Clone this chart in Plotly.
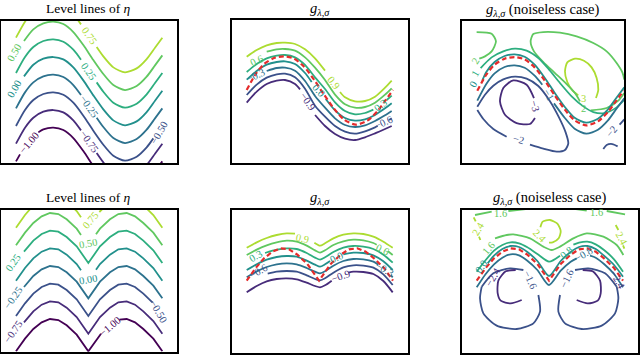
import plotly.graph_objects as go
from plotly.colors import sample_colorscale

# All curves are in panel-local units (1/3 px), origin at the frame's top-left corner.

# ---------- panel 1 : level lines of eta (sine boundary) ----------
P1_X_GAP = [45, 72, 97, 127, 157, 187, 217, 240, None, 287, 307, 337, 372, 407, 437, 462, 484]
P1_X_LEFT = [69, 97, 127, 157, 187, 217, 247, 277, 307, 337, 372, 407, 437, 462, 484]
P1_X_M050 = [45, 72, 97, 127, 157, 187, 217, 247, 277, 307, 337, 372, 407, 437, 457]
P1_X_M100 = [45, 57, None, 112, 127, 157, 187, 217, 247, 277, 307, 337, 372, 407, 437, 462, 484]
P1_Y_075 = [51, 3, -27, -45, -50, -43, -19, 11, None, 79, 107, 140, 155, 143, 115, 81, 51]
P1_Y_050 = [61, 26, 8, 3, 10, 34, 73, 118, 160, 193, 208, 196, 168, 134, 104]
P1_Y_025 = [157, 109, 79, 61, 56, 63, 87, 117, None, 185, 213, 246, 261, 249, 221, 187, 157]
P1_Y_000 = [167, 132, 114, 109, 116, 140, 179, 224, 266, 299, 314, 302, 274, 240, 210]
P1_Y_M025 = [263, 215, 185, 167, 162, 169, 193, 223, None, 291, 319, 352, 367, 355, 327, 293, 263]
P1_Y_M050 = [316, 268, 238, 220, 215, 222, 246, 285, 330, 372, 405, 420, 408, 380, 353]
P1_Y_M075 = [369, 321, 291, 273, 268, 275, 299, 329, None, 397, 425, 458, 473, 461, 433, 399, 369]
P1_Y_M100 = [422, 401, None, 335, 326, 321, 328, 352, 391, 436, 478, 511, 526, 514, 486, 452, 422]

# eta = 0 boundary, sine case (red dashed in the top row)
ETA_SINE_X = [45, 72, 97, 127, 157, 187, 217, 247, 277, 307, 337, 372, 407, 437, 462, 484]
ETA_SINE_Y = [210, 162, 132, 114, 109, 116, 140, 179, 224, 266, 299, 314, 302, 274, 240, 210]

# ---------- panel 2 : g (sine) ----------
P2_X_09 = [45, 75, 105, 135, 160, 190, 220, 250, 280, None, 325, 340, 370, 400, 430, 460, 480]
P2_Y_09 = [110, 90, 76, 69, 68, 72, 88, 115, 152, None, 216, 232, 244, 243, 230, 203, 182]
P2_X_06 = [105, 135, 160, 190, 220, 250, 280, 310, 340, 370, 400, 430, 460, 480]
P2_Y_06 = [95, 88, 87, 92, 112, 143, 180, 224, 253, 263, 261, 248, 224, 205]
P2_X_03 = [45, 75, 105, 135, 160, 190, 220, 250, 280, 310, 340, 370, 400, 425, None, 465, 480]
P2_Y_03 = [156, 132, 115, 107, 105, 112, 135, 172, 207, 247, 273, 283, 279, 269, None, 240, 227]
P2_X_00 = [45, 75, 105, 135, 160, 190, 220, 240, None, 282, 310, 340, 370, 400, 430, 460, 480]
P2_Y_00 = [179, 153, 134, 126, 124, 132, 159, 186, None, 237, 271, 294, 302, 298, 285, 265, 250]
P2_X_M03 = [105, 135, 160, 190, 220, 250, 280, 310, 340, 370, 400, 430, 460, 480]
P2_Y_M03 = [153, 144, 143, 152, 183, 228, 263, 295, 315, 321, 316, 303, 286, 273]
P2_X_M06 = [45, 75, 105, 135, 160, 190, 220, 250, 280, 310, 340, 370, 400, 430, 438, None, 472, 480]
P2_Y_M06 = [225, 194, 173, 163, 161, 172, 206, 257, 290, 318, 335, 341, 334, 322, 318, None, 300, 295]
P2_X_M09 = [45, 75, 105, 135, 160, 190, 205, None, 250, 280, 310, 340, 370, 400, 430, 460, 480]
P2_Y_M09 = [248, 215, 192, 182, 180, 192, 208, None, 285, 318, 342, 356, 360, 352, 340, 327, 318]

# ---------- panel 3 : g noiseless (sine) ----------
P3_X_3 = [348, 331, 315, 308, 315, 338, 365, 388, 403, 408, 401]
P3_Y_3 = [224, 210, 184, 152, 125, 114, 120, 140, 172, 207, 232]
P3_X_2 = [486, 481, 463, 433, 393, 343, 293, 243, 213, 205, 215, 243, 278, 313, 338, 353, None, 385, 433, 468, 486]
P3_Y_2 = [177, 157, 127, 92, 67, 47, 36, 34, 40, 62, 92, 124, 157, 190, 217, 242, None, 269, 262, 240, 217]
P3_X_2B = [43, 88, 101, 88, 68, 51]
P3_Y_2B = [34, 39, 62, 92, 107, 114]
P3_X_1 = [55, 88, 123, 158, 193, 228, 258, 293, 328, 363, 393, 428, 463, 486]
P3_Y_1 = [142, 110, 92, 84, 90, 112, 144, 187, 227, 257, 274, 277, 260, 237]
P3_X_0 = [60, 72, 97, 127, 157, 187, 217, 247, 277, 307, 337, 372, 407, 437, 462, 486]
P3_Y_0 = [180, 154, 124, 106, 101, 108, 132, 171, 216, 258, 291, 306, 294, 266, 232, 200]
P3_X_M1 = [45, 72, 97, 127, 157, 187, 217, 240, None, 275, 307, 337, 372, 407, 437, 462, 486]
P3_Y_M1 = [240, 190, 158, 139, 134, 141, 165, 192, None, 248, 291, 324, 339, 327, 299, 265, 233]
P3_X_M2 = [45, 68, 93, 123, 158, 193, 228, 262, 290, 310, 318, 308, 283, 243, 203, None, 133, 93, 63, 45]
P3_Y_M2 = [258, 222, 195, 176, 168, 174, 196, 240, 290, 335, 368, 388, 393, 384, 372, None, 348, 325, 295, 268]
P3_X_M2B = [423, 433, 450, 466, None, 472, 486]
P3_Y_M2B = [385, 373, 370, 377, None, 312, 296]
P3_X_M3 = [215, 193, 153, 123, 113, 128, 163, 203, 218]
P3_Y_M3 = [232, 192, 179, 202, 242, 282, 307, 310, 292]

# ---------- panel 4 : level lines of eta (|sin| boundary) ----------
P4_X = [45, 72, 97, 122, 147, 172, 197, 227, 262, 297, 327, 352, 377, 402, 427, 457, 484]
P4_X_075 = [45, 72, 97, 122, 147, 172, 197, 227, 240, None, 295, 327, 352, 377, 402, 427, 457, 484]
P4_X_V = [45, 72, 97, 122, 147, 172, 197, 227, 240, None, 285, 297, 327, 352, 377, 402, 427, 457, 484]
P4_X_LEFT = [69, 97, 122, 147, 172, 197, 227, 262, 297, 327, 352, 377, 402, 427, 457, 484]
P4_X_M050 = [45, 72, 97, 122, 147, 172, 197, 227, 262, 297, 327, 352, 377, 402, 427, 455]
P4_X_M100 = [45, 72, 97, 122, 147, 172, 197, 227, 262, 297, 300, None, 355, 377, 402, 427, 457, 484]
P4_Y_075 = [53, 15, -14, -34, -44, -41, -25, 3, 22, None, 6, -25, -41, -44, -34, -14, 15, 53]
P4_Y_050 = [106, 68, 39, 19, 9, 12, 28, 56, 75, None, 73, 56, 28, 12, 9, 19, 39, 68, 106]
P4_Y_025 = [125, 92, 72, 62, 65, 81, 109, 159, 109, 81, 65, 62, 72, 92, 121, 159]
P4_Y_000 = [212, 174, 145, 125, 115, 118, 134, 162, 181, None, 179, 162, 134, 118, 115, 125, 145, 174, 212]
P4_Y_M025 = [231, 198, 178, 168, 171, 187, 215, 265, 215, 187, 171, 168, 178, 198, 227, 265]
P4_Y_M050 = [318, 280, 251, 231, 221, 224, 240, 268, 318, 268, 240, 224, 221, 231, 251, 278]
P4_Y_M075 = [337, 304, 284, 274, 277, 293, 321, 371, 321, 293, 277, 274, 284, 304, 333, 371]
P4_Y_M100 = [424, 386, 357, 337, 327, 330, 346, 374, 424, 374, 371, None, 329, 327, 337, 357, 386, 424]

# eta = 0 boundary, |sin| case (red dashed in the bottom row)
ETA_ABS_Y = [212, 174, 145, 125, 115, 118, 134, 162, 212, 162, 134, 118, 115, 125, 145, 174, 212]

# ---------- panel 5 : g (|sin|) ----------
P5_X_09 = [45, 75, 105, 135, 165, 190, None, 248, 265, 280, 305, 335, 365, 395, 425, 455, 483]
P5_Y_09 = [113, 97, 84, 75, 70, 71, None, 98, 107, 100, 85, 74, 70, 72, 80, 95, 113]
P5_X_06 = [45, 75, 105, 135, 165, 195, 225, 250, 265, 280, 305, 335, 365, 395, 425, 435, None, 468, 483]
P5_Y_06 = [135, 119, 106, 97, 92, 95, 107, 121, 128, 121, 105, 94, 89, 91, 99, 104, None, 123, 135]
P5_X_03 = [100, 135, 165, 195, 225, 250, 265, 280, 305, 335, 365, 395, 425, 455, 483]
P5_Y_03 = [129, 119, 115, 117, 129, 143, 149, 142, 126, 113, 108, 110, 117, 134, 158]
P5_X_00 = [45, 75, 105, 135, 165, 195, 225, 250, 265, 280, 295, None, 335, 365, 395, 425, 455, 483]
P5_Y_00 = [180, 163, 149, 141, 138, 140, 152, 164, 170, 163, 153, None, 133, 128, 129, 136, 154, 180]
P5_X_M03 = [45, 75, 105, 135, 165, 195, 225, 250, 265, 280, 305, 335, 365, 395, 425, 440, None, 478, 483]
P5_Y_M03 = [202, 184, 171, 163, 160, 163, 174, 185, 190, 184, 167, 153, 147, 148, 155, 164, None, 196, 202]
P5_X_M06 = [108, 135, 165, 195, 225, 250, 265, 280, 305, 335, 365, 395, 425, 455, 483]
P5_Y_M06 = [191, 185, 183, 185, 196, 207, 211, 205, 188, 172, 166, 167, 173, 193, 225]
P5_X_M09 = [45, 75, 105, 135, 165, 195, 225, 250, 265, 280, 300, None, 350, 365, 395, 425, 455, 483]
P5_Y_M09 = [247, 228, 214, 207, 205, 208, 218, 228, 232, 226, 212, None, 188, 185, 186, 192, 213, 247]

# ---------- panel 6 : g noiseless (|sin|) ----------
P6_X_16T = [40, 90, None, 140, 195, None, 340, 375, None, 435, 490]
P6_Y_16T = [15, 5, None, 3, -3, None, -3, 2, None, 3, 13]
P6_X_24L = [36, 42, None, 52, 56]
P6_Y_24L = [22, 34, None, 80, 90]
P6_X_24R = [462, 470, None, 484, 488]
P6_Y_24R = [45, 60, None, 106, 116]
P6_X_24M = [236, 243, 265, 287, 297, 291, 273, 262]
P6_Y_24M = [52, 35, 30, 41, 63, 85, 97, 98]
P6_X_16 = [100, 135, 155, 205, 245, 270, 295, 335, 375, 425, 465, 485]
P6_Y_16 = [85, 75, 73, 85, 110, 120, 110, 85, 70, 80, 105, 135]
P6_X_08 = [45, 72, 97, 122, 147, 172, 197, 227, 262, 295, None, 335, 352, 377, 402, 427, 457, 484]
P6_Y_08 = [185, 150, 122, 105, 97, 100, 112, 132, 155, 137, None, 104, 98, 95, 103, 120, 148, 185]
P6_X_00 = [78, 97, 122, 147, 172, 197, 227, 262, 297, 327, 352, 377, 402, 427, 457, 484]
P6_Y_00 = [160, 137, 117, 108, 111, 126, 153, 198, 153, 126, 111, 108, 117, 137, 165, 200]
P6_X_M08 = [45, 72, 97, 122, 147, 172, 197, 227, 262, 297, 327, 345, None, 385, 402, 427, 457, 484]
P6_Y_M08 = [232, 192, 163, 143, 133, 136, 152, 180, 225, 182, 155, 145, None, 137, 143, 162, 192, 232]
P6_X_M16L = [60, 95, 145, 185, None, 230, 235, 215, 165, 105, 65, 55, 60]
P6_X_M16R = [465, 430, 380, 340, None, 295, 290, 310, 360, 420, 460, 470, 465]
P6_Y_M16 = [230, 190, 175, 180, None, 255, 305, 340, 357, 347, 310, 265, 230]
P6_X_M24L = [162, 132, 110, 108, 117, 147, 180]
P6_X_M24R = [363, 393, 415, 417, 408, 378, 345]
P6_Y_M24 = [180, 184, 212, 250, 272, 280, 270]

# panel frames in page pixels: left, top, right, bottom
FRAMES = [
    (1, 20.7, 176.7, 163.3), (231.7, 20, 407.7, 162.7), (462.3, 20.7, 624.3, 162.7),
    (1, 210, 176.7, 351.7), (231.7, 210, 407.7, 353.3), (461.7, 210, 638.3, 353.3),
]
FW, FH = 640, 355
SERIF = 'Liberation Serif'


def col(t):
    return sample_colorscale('Viridis', [t])[0]


fig = go.Figure()
annotations = []


def ax(k):
    return ('x' if k == 1 else f'x{k}'), ('y' if k == 1 else f'y{k}')


def add_lines(k, lines, smooth=True):
    xr, yr = ax(k)
    shape = dict(shape='spline', smoothing=0.7) if smooth else dict(shape='linear')
    for xs, ys, t in lines:
        fig.add_trace(go.Scatter(x=xs, y=ys, mode='lines', xaxis=xr, yaxis=yr,
                                 line=dict(color=col(t), width=1.8, **shape),
                                 hoverinfo='skip', showlegend=False))


def add_boundary(k, xs, ys, smooth=True):
    xr, yr = ax(k)
    shape = dict(shape='spline', smoothing=0.7) if smooth else dict(shape='linear')
    fig.add_trace(go.Scatter(x=xs, y=ys, mode='lines', xaxis=xr, yaxis=yr,
                             line=dict(color='#e52b2b', width=2.2, dash='5px,3px', **shape),
                             hoverinfo='skip', showlegend=False))


def add_labels(k, labels):
    xr, yr = ax(k)
    for text, x, y, ang, t in labels:
        annotations.append(dict(x=x, y=y, xref=xr, yref=yr, text=text, showarrow=False,
                                textangle=ang, xanchor='center', yanchor='middle',
                                font=dict(family=SERIF, size=10.5, color=col(t))))


# level colours: 8 levels of eta -> t = i/8, 7 levels of g -> t = (i+1)/8
add_lines(1, [
    (P1_X_GAP, P1_Y_075, 7 / 8), (P1_X_LEFT, P1_Y_050, 6 / 8), (P1_X_GAP, P1_Y_025, 5 / 8),
    (P1_X_LEFT, P1_Y_000, 4 / 8), (P1_X_GAP, P1_Y_M025, 3 / 8), (P1_X_M050, P1_Y_M050, 2 / 8),
    (P1_X_GAP, P1_Y_M075, 1 / 8), (P1_X_M100, P1_Y_M100, 0),
])
add_labels(1, [
    ('0.75', 264, 45, 55, 7 / 8), ('0.25', 264, 151, 55, 5 / 8), ('−0.25', 264, 257, 55, 3 / 8),
    ('−0.75', 264, 363, 55, 1 / 8), ('0.50', 40, 95, -60, 6 / 8), ('0.00', 38, 205, -60, 4 / 8),
    ('−1.00', 85, 366, -50, 0), ('−0.50', 475, 336, -60, 2 / 8),
])

add_lines(2, [
    (P2_X_09, P2_Y_09, 7 / 8), (P2_X_06, P2_Y_06, 6 / 8), (P2_X_03, P2_Y_03, 5 / 8),
    (P2_X_00, P2_Y_00, 4 / 8), (P2_X_M03, P2_Y_M03, 3 / 8), (P2_X_M06, P2_Y_M06, 2 / 8),
    (P2_X_M09, P2_Y_M09, 1 / 8),
])
add_boundary(2, ETA_SINE_X, ETA_SINE_Y)
add_labels(2, [
    ('0.9', 305, 188, 52, 7 / 8), ('0.6', 75, 120, -25, 6 / 8), ('0.3', 446, 256, -40, 5 / 8),
    ('0.0', 261, 212, 50, 4 / 8), ('−0.3', 72, 165, -25, 3 / 8), ('−0.6', 456, 308, -25, 2 / 8),
    ('−0.9', 228, 245, 55, 1 / 8),
])

add_lines(3, [
    (P3_X_3, P3_Y_3, 7 / 8), (P3_X_2, P3_Y_2, 6 / 8), (P3_X_2B, P3_Y_2B, 6 / 8),
    (P3_X_1, P3_Y_1, 5 / 8), (P3_X_0, P3_Y_0, 4 / 8), (P3_X_M1, P3_Y_M1, 3 / 8),
    (P3_X_M2, P3_Y_M2, 2 / 8), (P3_X_M2B, P3_Y_M2B, 2 / 8), (P3_X_M3, P3_Y_M3, 1 / 8),
])
add_boundary(3, ETA_SINE_X, ETA_SINE_Y)
add_labels(3, [
    ('2', 41, 120, -60, 6 / 8), ('1', 38, 157, -60, 5 / 8), ('0', 33, 192, -60, 4 / 8),
    ('−1', 258, 222, 60, 3 / 8), ('3', 365, 232, 0, 7 / 8), ('2', 365, 262, 0, 6 / 8),
    ('−3', 218, 257, 75, 1 / 8), ('−2', 168, 357, 15, 2 / 8), ('−2', 448, 332, -50, 2 / 8),
])

# the |sin| level lines have a cusp in the middle: keep them piecewise linear
add_lines(4, [
    (P4_X_075, P4_Y_075, 7 / 8), (P4_X_V, P4_Y_050, 6 / 8), (P4_X_LEFT, P4_Y_025, 5 / 8),
    (P4_X_V, P4_Y_000, 4 / 8), (P4_X_LEFT, P4_Y_M025, 3 / 8), (P4_X_M050, P4_Y_M050, 2 / 8),
    (P4_X_LEFT, P4_Y_M075, 1 / 8), (P4_X_M100, P4_Y_M100, 0),
], smooth=False)
add_labels(4, [
    ('0.75', 267, 30, -50, 7 / 8), ('0.50', 262, 100, -10, 6 / 8), ('0.25', 37, 158, -55, 5 / 8),
    ('0.00', 262, 207, -10, 4 / 8), ('−0.25', 37, 263, -55, 3 / 8), ('−0.50', 472, 305, 60, 2 / 8),
    ('−0.75', 37, 365, -55, 1 / 8), ('−1.00', 327, 350, -40, 0),
])

add_lines(5, [
    (P5_X_09, P5_Y_09, 7 / 8), (P5_X_06, P5_Y_06, 6 / 8), (P5_X_03, P5_Y_03, 5 / 8),
    (P5_X_00, P5_Y_00, 4 / 8), (P5_X_M03, P5_Y_M03, 3 / 8), (P5_X_M06, P5_Y_M06, 2 / 8),
    (P5_X_M09, P5_Y_M09, 1 / 8),
])
add_boundary(5, P4_X, ETA_ABS_Y, smooth=False)
add_labels(5, [
    ('0.9', 213, 84, 12, 7 / 8), ('0.6', 451, 118, 25, 6 / 8), ('0.3', 70, 138, -30, 5 / 8),
    ('0.0', 315, 143, -25, 4 / 8), ('−0.3', 459, 178, 30, 3 / 8), ('−0.6', 80, 185, -30, 2 / 8),
    ('−0.9', 325, 198, -20, 1 / 8),
])

add_lines(6, [
    (P6_X_16T, P6_Y_16T, 6 / 8), (P6_X_24L, P6_Y_24L, 7 / 8), (P6_X_24R, P6_Y_24R, 7 / 8),
    (P6_X_24M, P6_Y_24M, 7 / 8), (P6_X_16, P6_Y_16, 6 / 8), (P6_X_08, P6_Y_08, 5 / 8),
    (P6_X_00, P6_Y_00, 4 / 8), (P6_X_M08, P6_Y_M08, 3 / 8),
    (P6_X_M16L, P6_Y_M16, 2 / 8), (P6_X_M16R, P6_Y_M16, 2 / 8),
    (P6_X_M24L, P6_Y_M24, 1 / 8), (P6_X_M24R, P6_Y_M24, 1 / 8),
])
add_boundary(6, P4_X, ETA_ABS_Y, smooth=False)
add_labels(6, [
    ('1.6', 115, 9, 0, 6 / 8), ('1.6', 405, 8, 0, 6 / 8), ('2.4', 50, 55, -60, 7 / 8),
    ('2.4', 480, 85, 60, 7 / 8), ('2.4', 236, 78, 45, 7 / 8), ('1.6', 80, 115, -50, 6 / 8),
    ('0.8', 315, 128, -40, 5 / 8), ('0.0', 60, 170, -55, 4 / 8), ('−0.8', 365, 133, -30, 3 / 8),
    ('−1.6', 205, 208, 65, 2 / 8), ('−1.6', 315, 205, -65, 2 / 8),
    ('−2.4', 95, 200, -60, 1 / 8), ('−2.4', 470, 210, 60, 1 / 8),
])

# axes: one framed box per panel, local units = 3 per pixel
layout_axes = {}
for k, (l, t, r, b) in enumerate(FRAMES, start=1):
    sx = '' if k == 1 else str(k)
    w, h = (r - l) * 3, (b - t) * 3
    common = dict(showgrid=False, zeroline=False, showticklabels=False, ticks='',
                  showline=True, mirror=True, linecolor='black', linewidth=1.5, fixedrange=True)
    layout_axes[f'xaxis{sx}'] = dict(domain=[l / FW, r / FW], range=[0, w],
                                     anchor=f'y{sx}' if sx else 'y', **common)
    layout_axes[f'yaxis{sx}'] = dict(domain=[1 - b / FH, 1 - t / FH], range=[h, 0],
                                     anchor=f'x{sx}' if sx else 'x', **common)

# panel titles
G = '<i>g</i><sub><i>λ,σ</i></sub>'
TITLES = ['Level lines of <i>η</i>', G, G + ' (noiseless case)'] * 2
for k, (l, t, r, b) in enumerate(FRAMES):
    is_eta = k % 3 == 0
    gap = 12.5 if (is_eta or k >= 3) else 10.5
    annotations.append(dict(x=(l + r) / 2 / FW, y=1 - (t - gap) / FH,
                            xref='paper', yref='paper',
                            text=TITLES[k], showarrow=False, xanchor='center', yanchor='middle',
                            font=dict(family=SERIF, size=13.5 if is_eta else 14.5,
                                      color='black')))

fig.update_layout(width=FW, height=FH, margin=dict(l=0, r=0, t=0, b=0),
                  paper_bgcolor='white', plot_bgcolor='white',
                  annotations=annotations, **layout_axes)

# the page's default 8px body margin would shift the whole figure
fig.write_html('out.html', config={'displayModeBar': False},
               post_script="document.body.style.margin='0px';")
